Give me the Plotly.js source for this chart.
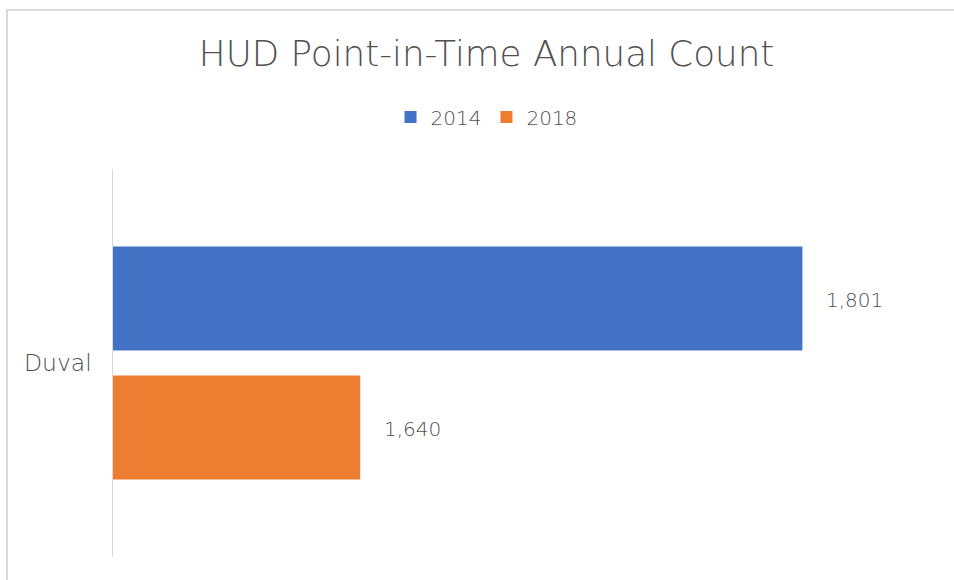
<!DOCTYPE html>
<html>
<head>
<meta charset="utf-8">
<script src="https://cdn.plot.ly/plotly-3.0.1.min.js"></script>
<style>
  html, body { margin: 0; padding: 0; background: #ffffff; overflow: hidden; }
  #wrap { position: relative; width: 954px; height: 580px; overflow: hidden; }
  #chart { width: 954px; height: 580px; }
  #frame { position: absolute; left: 6px; top: 9px; width: 1100px; height: 1100px;
           border: 2px solid #d9d9d9; pointer-events: none; box-sizing: border-box; }
</style>
</head>
<body>
<div id="wrap">
  <div id="chart"></div>
  <div id="frame"></div>
</div>
<script>
// ---- data ----
const categories = ["Duval"];
const seriesNames = ["2014", "2018"];
const values2014 = [1801];
const values2018 = [1640];
const xRange = [1550, 1850];

const colors = ["#4472C4", "#ED7D31"];
const textColor = "#505050";
const fontFamily = "DejaVu Sans, sans-serif";
const bargap = 0.335;
const bargroupgap = 0.194;

const seriesValues = [values2014, values2018];

const traces = seriesNames.map((name, i) => ({
  type: "bar",
  orientation: "h",
  name: name,
  y: categories,
  x: seriesValues[i],
  marker: { color: colors[i], line: { width: 0 } },
  hoverinfo: "x+name"
}));

// data labels placed just right of each bar end
const slotOffset = (1 - bargap) / 4;
const annotations = [];
seriesValues.forEach((vals, i) => {
  vals.forEach((v, j) => {
    annotations.push({
      x: v,
      y: j + (i === 0 ? -slotOffset : slotOffset),
      xref: "x", yref: "y",
      text: v.toLocaleString("en-US"),
      showarrow: false,
      xanchor: "left",
      yanchor: "middle",
      xshift: 22,
      yshift: -1,
      font: { family: fontFamily, size: 20, color: textColor, weight: 300 }
    });
  });
});

const layout = {
  width: 954,
  height: 580,
  paper_bgcolor: "#ffffff",
  plot_bgcolor: "#ffffff",
  margin: { l: 113, r: 17, t: 169, b: 23, pad: 0 },
  font: { family: fontFamily, color: textColor },
  title: {
    text: "HUD Point-in-Time Annual Count",
    font: { family: fontFamily, size: 35.7, color: textColor, weight: 300 },
    xref: "container", x: 0.51, xanchor: "center",
    yref: "container", y: 1 - 54 / 580, yanchor: "middle"
  },
  showlegend: true,
  legend: {
    orientation: "h",
    xref: "container", x: 0.51, xanchor: "center",
    yref: "container", y: 1 - 117 / 580, yanchor: "middle",
    font: { family: fontFamily, size: 20, color: textColor, weight: 300 },
    itemclick: false, itemdoubleclick: false
  },
  barmode: "group",
  bargap: bargap,
  bargroupgap: bargroupgap,
  xaxis: {
    range: xRange,
    showgrid: false,
    zeroline: false,
    showline: false,
    showticklabels: false,
    ticks: ""
  },
  yaxis: {
    type: "category",
    autorange: "reversed",
    showgrid: false,
    zeroline: false,
    showline: true,
    linecolor: "#d9d9d9",
    linewidth: 1.5,
    ticks: "",
    ticklabelstandoff: 15,
    tickfont: { family: fontFamily, size: 23.5, color: textColor, weight: 300 }
  },
  annotations: annotations
};

Plotly.newPlot("chart", traces, layout, { displayModeBar: false, staticPlot: true });
</script>
</body>
</html>
